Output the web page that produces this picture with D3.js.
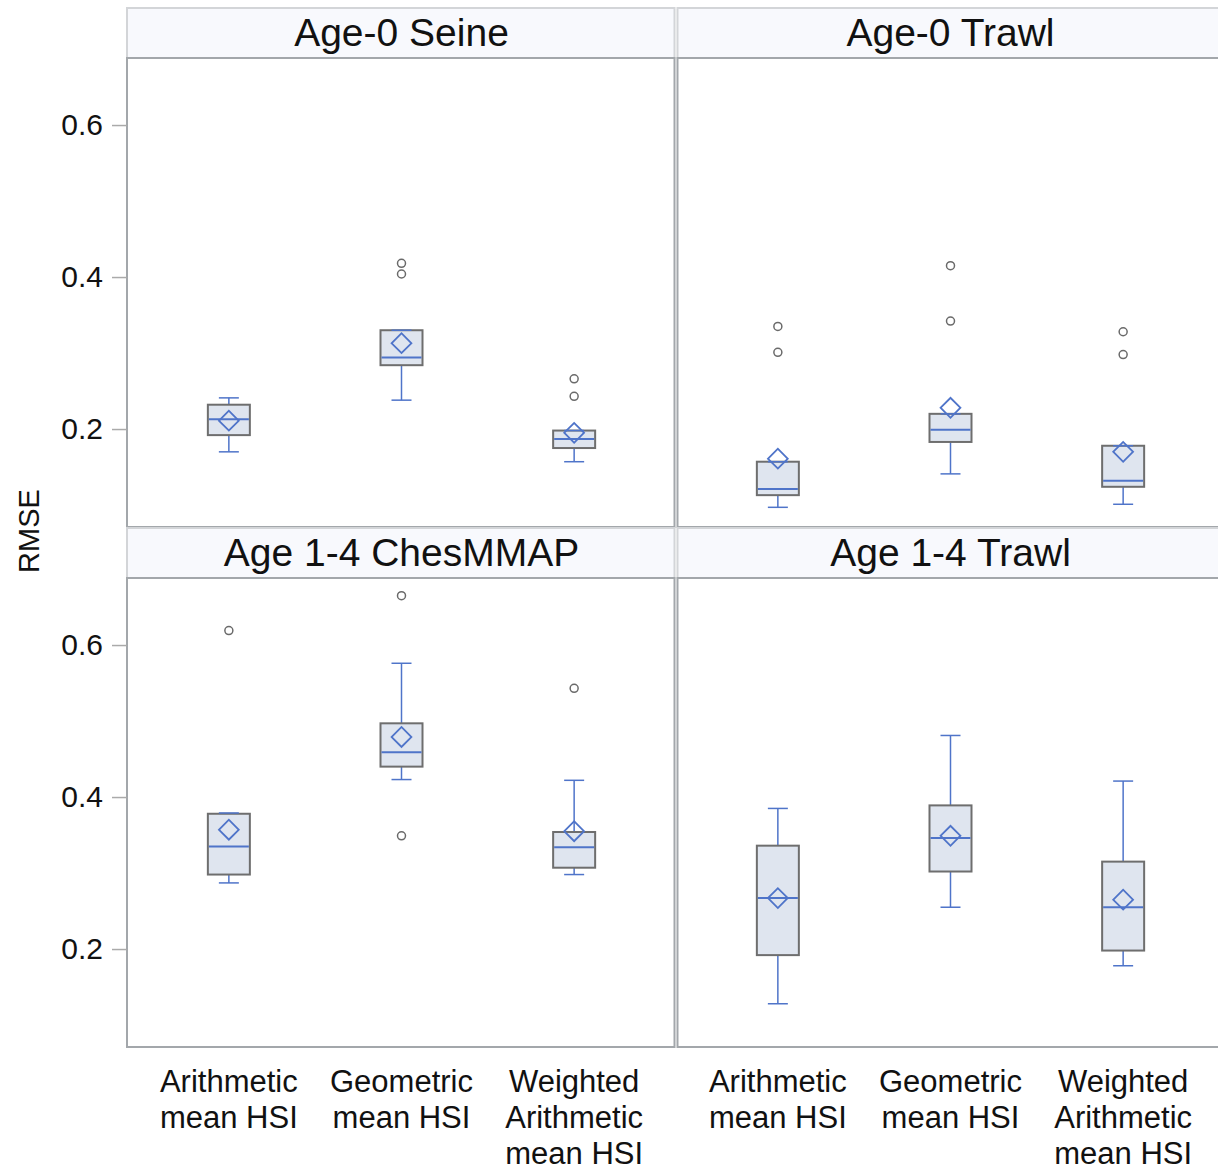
<!DOCTYPE html>
<html>
<head>
<meta charset="utf-8">
<script src="https://cdn.jsdelivr.net/npm/d3@7"></script>
<style>
  html, body { margin: 0; padding: 0; background: #ffffff; }
  svg { display: block; font-family: "Liberation Sans", Arial, sans-serif; }
</style>
</head>
<body>
<script>
// Panels (row-major) and the three HSI formulations compared in each
const panels = ["Age-0 Seine", "Age-0 Trawl", "Age 1-4 ChesMMAP", "Age 1-4 Trawl"];
const methods = ["Arithmetic mean HSI", "Geometric mean HSI", "Weighted Arithmetic mean HSI"];
const methodLabelLines = [["Arithmetic", "mean HSI"], ["Geometric", "mean HSI"], ["Weighted", "Arithmetic", "mean HSI"]];

// RMSE box statistics, one row per panel, one entry per method
const whiskerLow = [
  [0.170, 0.238, 0.157],
  [0.097, 0.141, 0.101],
  [0.287, 0.423, 0.298],
  [0.128, 0.255, 0.178]
];
const q1 = [
  [0.192, 0.284, 0.175],
  [0.113, 0.183, 0.124],
  [0.298, 0.440, 0.307],
  [0.192, 0.302, 0.198]
];
const median = [
  [0.213, 0.294, 0.187],
  [0.121, 0.199, 0.132],
  [0.335, 0.459, 0.334],
  [0.267, 0.346, 0.255]
];
const q3 = [
  [0.232, 0.330, 0.198],
  [0.157, 0.220, 0.178],
  [0.378, 0.497, 0.354],
  [0.336, 0.389, 0.315]
];
const whiskerHigh = [
  [0.241, 0.330, 0.198],
  [0.157, 0.220, 0.178],
  [0.379, 0.576, 0.422],
  [0.385, 0.481, 0.421]
];
const meanValue = [
  [0.211, 0.313, 0.195],
  [0.161, 0.228, 0.170],
  [0.357, 0.479, 0.355],
  [0.267, 0.349, 0.265]
];
const outliers = [
  [[], [0.418, 0.404], [0.266, 0.243]],
  [[0.335, 0.301], [0.415, 0.342], [0.328, 0.298]],
  [[0.619], [0.665, 0.349], [0.543]],
  [[], [], []]
];

const yTickValues = [0.2, 0.4, 0.6];
const yTickLabels = ["0.2", "0.4", "0.6"];
const yDomain = [0.0711, 0.6882];

// Layout
const W = 1218, H = 1173;
const left = 127, cellW = 549;
const top0 = 8, headerH = 50, plotH = 469, rowStep = 520;

const blue = "#4f74c9";
const boxStroke = "#6e6e6e";
const boxFill = "#dfe5ef";
const frameColor = "#a3a7ab";
const headerFill = "#f8f9fd";
const headerStroke = "#d3d5d8";

const svg = d3.select("body").append("svg")
  .attr("width", W).attr("height", H);

const cells = panels.map((name, i) => {
  const col = i % 2, row = Math.floor(i / 2);
  const x0 = left + col * cellW;
  const hTop = top0 + row * rowStep;
  return { name, i, col, row, x0, x1: x0 + cellW, hTop, pTop: hTop + headerH, pBottom: hTop + headerH + plotH };
});

cells.forEach(c => {
  const g = svg.append("g");
  const x = d3.scalePoint().domain(methods).range([c.x0, c.x1]).padding(0.59);
  const y = d3.scaleLinear().domain(yDomain).range([c.pBottom, c.pTop]);

  // Header strip
  g.append("rect")
    .attr("x", c.x0 + (c.col === 1 ? 1.5 : 0)).attr("y", c.hTop)
    .attr("width", cellW - 1.5).attr("height", headerH)
    .attr("fill", headerFill).attr("stroke", headerStroke).attr("stroke-width", 2);
  g.append("text")
    .attr("x", (c.x0 + c.x1) / 2).attr("y", c.hTop + 38)
    .attr("text-anchor", "middle").attr("font-size", 39).attr("fill", "#111")
    .text(c.name);

  // Plot frame
  g.append("rect")
    .attr("x", c.x0 + (c.col === 1 ? 1.5 : 0)).attr("y", c.pTop)
    .attr("width", cellW - 1.5).attr("height", plotH)
    .attr("fill", "none").attr("stroke", frameColor).attr("stroke-width", 2);

  // Y axis on left column
  if (c.col === 0) {
    const axis = d3.axisLeft(y).tickValues(yTickValues)
      .tickFormat((d, k) => yTickLabels[k]).tickSize(15).tickPadding(9);
    const ag = g.append("g").attr("transform", `translate(${c.x0},0)`).call(axis);
    ag.select(".domain").remove();
    ag.selectAll(".tick line").attr("stroke", "#aaaaaa").attr("stroke-width", 1.5);
    ag.selectAll(".tick text").attr("font-size", 30).attr("fill", "#111")
      .attr("font-family", "Liberation Sans, Arial, sans-serif");
  }

  const k = c.i;
  methods.forEach((m, j) => {
    const cx = x(m);
    const bw = 42, cap = 20;
    // whiskers
    g.append("line").attr("x1", cx).attr("x2", cx)
      .attr("y1", y(q3[k][j])).attr("y2", y(whiskerHigh[k][j]))
      .attr("stroke", blue).attr("stroke-width", 1.5);
    g.append("line").attr("x1", cx).attr("x2", cx)
      .attr("y1", y(q1[k][j])).attr("y2", y(whiskerLow[k][j]))
      .attr("stroke", blue).attr("stroke-width", 1.5);
    // box
    g.append("rect")
      .attr("x", cx - bw / 2).attr("y", y(q3[k][j]))
      .attr("width", bw).attr("height", y(q1[k][j]) - y(q3[k][j]))
      .attr("fill", boxFill).attr("stroke", boxStroke).attr("stroke-width", 2);
    // caps
    [whiskerHigh[k][j], whiskerLow[k][j]].forEach(v => {
      g.append("line").attr("x1", cx - cap / 2).attr("x2", cx + cap / 2)
        .attr("y1", y(v)).attr("y2", y(v))
        .attr("stroke", blue).attr("stroke-width", 1.5);
    });
    // median
    g.append("line").attr("x1", cx - bw / 2 + 1).attr("x2", cx + bw / 2 - 1)
      .attr("y1", y(median[k][j])).attr("y2", y(median[k][j]))
      .attr("stroke", blue).attr("stroke-width", 2);
    // mean diamond
    g.append("path")
      .attr("d", d3.symbol(d3.symbolSquare, 196)())
      .attr("transform", `translate(${cx},${y(meanValue[k][j])}) rotate(45)`)
      .attr("fill", "none").attr("stroke", blue).attr("stroke-width", 1.8);
    // outliers
    outliers[k][j].forEach(v => {
      g.append("circle").attr("cx", cx).attr("cy", y(v)).attr("r", 4)
        .attr("fill", "none").attr("stroke", "#6a6a6a").attr("stroke-width", 1.5);
    });

    // category labels under the bottom row
    if (c.row === 1) {
      const t = g.append("text").attr("text-anchor", "middle")
        .attr("font-size", 31).attr("fill", "#111");
      methodLabelLines[j].forEach((line, li) => {
        t.append("tspan").attr("x", cx).attr("y", 1092 + li * 36).text(line);
      });
    }
  });
});

// Shared y-axis title
svg.append("text")
  .attr("transform", "translate(39,531) rotate(-90)")
  .attr("text-anchor", "middle").attr("font-size", 29).attr("fill", "#111")
  .text("RMSE");
</script>
</body>
</html>
